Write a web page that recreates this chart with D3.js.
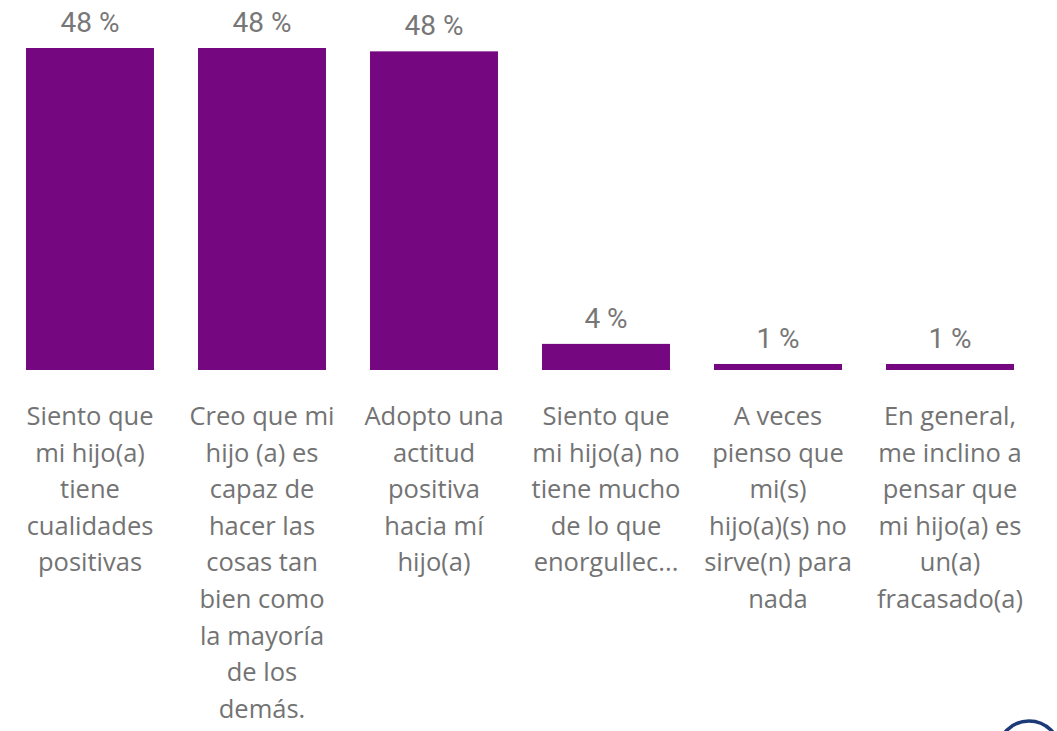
<!DOCTYPE html>
<html><head><meta charset="utf-8">
<script src="https://cdn.jsdelivr.net/npm/d3@7"></script>
<style>html,body{margin:0;padding:0;background:#fff;overflow:hidden}</style>
</head><body>
<svg id="c" width="1057" height="731"></svg>
<script>
const categories = [
  ["Siento que","mi hijo(a)","tiene","cualidades","positivas"],
  ["Creo que mi","hijo (a) es","capaz de","hacer las","cosas tan","bien como","la mayoría","de los","demás."],
  ["Adopto una","actitud","positiva","hacia mí","hijo(a)"],
  ["Siento que","mi hijo(a) no","tiene mucho","de lo que","enorgullec..."],
  ["A veces","pienso que","mi(s)","hijo(a)(s) no","sirve(n) para","nada"],
  ["En general,","me inclino a","pensar que","mi hijo(a) es","un(a)","fracasado(a)"]
];
const values = [48.1, 48.1, 47.6, 3.9, 0.9, 0.9];
const valueLabels = ["48 %","48 %","48 %","4 %","1 %","1 %"];

const svg = d3.select("#c");
const x = d3.scaleBand().domain(d3.range(categories.length)).range([4, 1036]).paddingInner(0.256).paddingOuter(0.128);
const y = d3.scaleLinear().domain([0, 48.1]).range([370, 48]);

svg.selectAll("rect.bar").data(values).join("rect")
  .attr("class","bar")
  .attr("x",(d,i)=>x(i)).attr("width",x.bandwidth())
  .attr("y",d=>y(d)).attr("height",d=>y(0)-y(d))
  .attr("fill","#750880");

svg.selectAll("text.val").data(values).join("text")
  .attr("class","val")
  .attr("x",(d,i)=>x(i)+x.bandwidth()/2)
  .attr("y",d=>y(d)-16)
  .attr("text-anchor","middle")
  .attr("font-family","Roboto, sans-serif")
  .attr("font-weight",400)
  .attr("font-size",28)
  .attr("fill","#777777")
  .text((d,i)=>valueLabels[i]);

const cat = svg.selectAll("text.cat").data(categories).join("text")
  .attr("class","cat")
  .attr("text-anchor","middle")
  .attr("font-family","'Open Sans', 'Noto Sans', sans-serif")
  .attr("font-size",25.5)
  .attr("fill","#737373");
cat.each(function(lines,i){
  const t = d3.select(this);
  lines.forEach((ln,j)=>{
    t.append("tspan").attr("x",x(i)+x.bandwidth()/2).attr("y",425+j*36.6).text(ln);
  });
});

// logo fragment bottom right
svg.append("circle").attr("cx",1029).attr("cy",752).attr("r",31)
  .attr("fill","none").attr("stroke","#1d3a78").attr("stroke-width",3.5);
</script>
</body></html>
